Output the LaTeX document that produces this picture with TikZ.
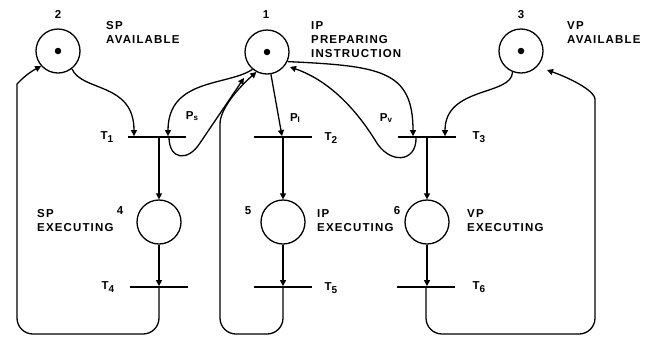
\documentclass[tikz,border=0pt]{standalone}
\usepackage{fontspec}
\setmainfont{Liberation Sans}
\newfontfamily\lblfont[LetterSpace=10]{Liberation Sans}
\usetikzlibrary{arrows.meta}
\newcommand\tsub[1]{\raisebox{-3pt}{\fontsize{10}{10}\selectfont #1}}
\newcommand\psub[1]{\raisebox{-0.5pt}{\fontsize{8}{8}\selectfont #1}}
\begin{document}
\begin{tikzpicture}[x=1pt,y=-1pt,
  place/.style={circle,draw,line width=1.3pt,minimum size=44pt,inner sep=0pt},
  trans/.style={fill=black,minimum width=58pt,minimum height=1.4pt,inner sep=0pt},
  arc/.style={line width=1.3pt,-{Triangle[length=6pt,width=6pt]}},
  lbl/.style={font=\lblfont\bfseries\fontsize{11.5}{14}\selectfont,align=left,inner sep=0pt},
  tok/.style={circle,fill,minimum size=6.5pt,inner sep=0pt}
]
\useasboundingbox (0,0) rectangle (652,338);

% places
\node[place] (p2) at (58,51) {};
\node[place] (p1) at (267,52) {};
\node[place] (p3) at (521,51) {};
\node[place] (p4) at (159,222) {};
\node[place] (p5) at (283,222) {};
\node[place] (p6) at (427,222) {};
\node[tok] (k2) at (p2) {};
\node[tok] (k1) at (p1) {};
\node[tok] (k3) at (p3) {};

% transitions
\node[trans] (t1) at (157,137) {};
\node[trans] (t2) at (283,137) {};
\node[trans] (t3) at (427,137) {};
\node[trans] (t4) at (159,287) {};
\node[trans] (t5) at (283,287) {};
\node[trans] (t6) at (426,287) {};

% place labels
\node[lbl,anchor=base] (n2) at (58,18) {2};
\node[lbl,anchor=base] (n1) at (266,18) {1};
\node[lbl,anchor=base] (n3) at (521,18) {3};
\node[lbl,anchor=base] (n4) at (120,214) {4};
\node[lbl,anchor=base] (n5) at (248,214) {5};
\node[lbl,anchor=base] (n6) at (397,214) {6};

\node[lbl,anchor=base west] (l2) at (106,43) {SP\\AVAILABLE};
\node[lbl,anchor=base west] (l1) at (311,57) {IP\\PREPARING\\INSTRUCTION};
\node[lbl,anchor=base west] (l3) at (567,43) {VP\\AVAILABLE};
\node[lbl,anchor=base west] (l4) at (37,231) {SP\\EXECUTING};
\node[lbl,anchor=base west] (l5) at (317,231) {IP\\EXECUTING};
\node[lbl,anchor=base west] (l6) at (467,231) {VP\\EXECUTING};

% transition labels
\node[lbl] (lt1) at (107,137) {T\tsub{1}};
\node[lbl] (lt2) at (331,138) {T\tsub{2}};
\node[lbl] (lt3) at (479,137) {T\tsub{3}};
\node[lbl] (lt4) at (108,287) {T\tsub{4}};
\node[lbl] (lt5) at (331,288) {T\tsub{5}};
\node[lbl] (lt6) at (479,287) {T\tsub{6}};

% arc labels
\node[lbl] (lps) at (192,116) {P\psub{s}};
\node[lbl] (lpi) at (295,118) {P\psub{I}};
\node[lbl] (lpv) at (386,118) {P\psub{v}};

% free ends
\coordinate (psend) at (244,78);
\coordinate (pvend) at (290,67);
\coordinate (p3end) at (547,70);

% SP part
\draw[arc] (p2.-52) .. controls (82,92) and (134,82) .. ([xshift=-23pt]t1.north);
\draw[arc] (p1.-130) .. controls (228,86) and (168,78) .. ([xshift=11pt]t1.north);
\draw[arc] ([xshift=12pt]t1.center) .. controls (169,160) and (188,162) .. (200,143) -- (psend);
\draw[arc] (t1.center -| p4) -- (p4);
\draw[arc] (p4) -- (p4 |- t4.north);
\draw[arc,rounded corners=16pt] (t4.center) -- (159,334) -- (17,334) -- (17,100) .. controls (17,84) and (26,74) .. (p2.-138);

% IP part
\draw[arc] (p1.-80) -- ([xshift=-1pt]t2.north);
\draw[arc] (t2.center -| p5) -- (p5);
\draw[arc] (p5) -- (p5 |- t5.north);
\draw[arc,rounded corners=16pt] (t5.center) -- (283,334) -- (220,334) -- (220,140) .. controls (220,110) and (236,90) .. (p1.-118);

% VP part
\draw[arc] (p3.-112) .. controls (512,96) and (445,86) .. ([xshift=18pt]t3.north);
\draw[arc] (p1.-25) .. controls (380,66) and (413,70) .. ([xshift=-14pt]t3.north);
\draw[arc] ([xshift=-11pt]t3.center) .. controls (417,163) and (389,165) .. (375,140) .. controls (350,100) and (322,78) .. (pvend);
\draw[arc] (t3.center -| p6) -- (p6);
\draw[arc] (p6) -- (p6 |- t6.north);
\draw[arc,rounded corners=16pt] (t6.center) -- (426,334) -- (595,334) -- (595,115) .. controls (595,92) and (575,80) .. (p3end);
\end{tikzpicture}
\end{document}
